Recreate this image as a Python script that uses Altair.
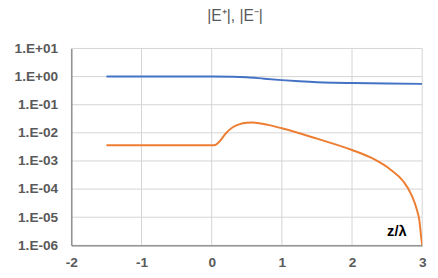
import altair as alt
import pandas as pd

# Data
z_plus = [-1.5, -1.0, 0.0, 0.3, 0.5, 0.75, 1.0, 1.25, 1.5, 1.75, 2.0, 2.5, 3.0]
e_plus = [1.0, 1.0, 1.0, 0.99, 0.95, 0.84, 0.75, 0.68, 0.63, 0.605, 0.59, 0.565, 0.55]

z_minus = [-1.5, -1.0, 0.0, 0.05, 0.1, 0.2, 0.3, 0.4, 0.5, 0.58, 0.7, 0.8, 1.0, 1.5, 2.0, 2.3, 2.55, 2.73, 2.85, 2.92, 2.96, 2.985, 3.0]
e_minus = [0.0036, 0.0036, 0.0036, 0.0037, 0.0046, 0.0095, 0.0158, 0.0205, 0.0228, 0.0234, 0.0215, 0.0192, 0.0145, 0.0062, 0.00245, 0.0012, 0.00049, 0.00019, 0.00006, 0.00002, 0.0000075, 0.000002, 0.000001]

x_ticks = [-2, -1, 0, 1, 2, 3]
y_ticks = [1e-6, 1e-5, 1e-4, 1e-3, 1e-2, 1e-1, 1, 10]

df_p = pd.DataFrame({"z": z_plus, "E": e_plus, "s": "E+"})
df_m = pd.DataFrame({"z": z_minus, "E": e_minus, "s": "E-"})
df = pd.concat([df_p, df_m])

label_color = "#595959"
grid_color = "#d4d4d4"

x_scale = alt.Scale(domain=[-2, 3], nice=False, zero=False)
y_scale = alt.Scale(type="log", domain=[1e-6, 10], nice=False)

x_axis = alt.Axis(values=x_ticks, title=None, labelPadding=11, grid=False, zindex=2,
                  labelExpr="toString(datum.value)")
y_axis = alt.Axis(values=y_ticks, title=None, labelPadding=14, grid=False, zindex=2,
                  labelExpr="'1.E' + (round(log(datum.value)/LN10) >= 0 ? '+' : '-') + (abs(round(log(datum.value)/LN10)) < 10 ? '0' : '') + abs(round(log(datum.value)/LN10))")

vgrid = alt.Chart(pd.DataFrame({"z": x_ticks})).mark_rule(color=grid_color, strokeWidth=1).encode(
    x=alt.X("z:Q", scale=x_scale, axis=x_axis))
hgrid = alt.Chart(pd.DataFrame({"E": y_ticks})).mark_rule(color=grid_color, strokeWidth=1).encode(
    y=alt.Y("E:Q", scale=y_scale, axis=y_axis))

lines = alt.Chart(df).mark_line(strokeWidth=2, interpolate="monotone", clip=True).encode(
    x=alt.X("z:Q", scale=x_scale, axis=x_axis),
    y=alt.Y("E:Q", scale=y_scale, axis=y_axis),
    color=alt.Color("s:N", scale=alt.Scale(domain=["E+", "E-"], range=["#4472C4", "#ED7D31"]), legend=None),
)

zlabel = alt.Chart(pd.DataFrame({"t": ["z/λ"]})).mark_text(
    font="Liberation Sans", fontWeight="bold", fontSize=15, color="#000000",
    align="center", baseline="middle").encode(
    text="t:N", x=alt.value(334), y=alt.value(187))

chart = alt.layer(vgrid, hgrid, lines, zlabel).properties(
    width=360, height=202,
    title=alt.TitleParams(text="|E⁺|, |E⁻|", font="Liberation Sans", fontSize=16,
                          fontWeight="normal", color=label_color, anchor="middle",
                          dx=-12, offset=18),
    autosize=alt.AutoSizeParams(type="none"),
    padding={"left": 65, "top": 38, "right": 8, "bottom": 30},
).configure_view(stroke=None).configure_axis(
    domainColor="#808080", domainWidth=1.3, ticks=False,
    labelFont="Liberation Sans", labelFontWeight="bold",
    labelFontSize=14, labelColor=label_color, labelFlush=False,
)

chart.save("out.html", embed_options={"renderer": "svg", "actions": False})
